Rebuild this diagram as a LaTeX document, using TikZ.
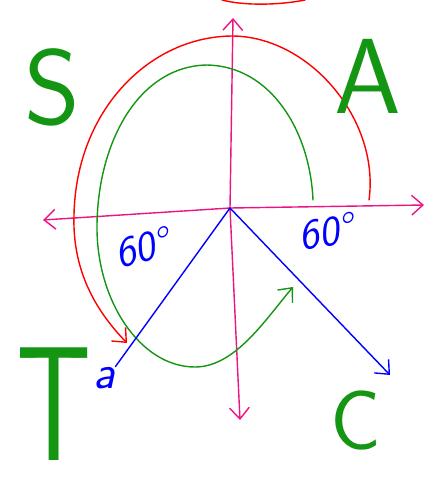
\documentclass[tikz,border=0pt]{standalone}
\usepackage{tikz}
\usetikzlibrary{arrows.meta}

\definecolor{axispink}{RGB}{235,20,130}
\definecolor{quadgreen}{RGB}{20,150,20}

\tikzset{
  quadletter/.style={text=quadgreen, inner sep=0pt, font=\sffamily\fontsize{76}{76}\selectfont},
  anglelabel/.style={text=blue, inner sep=0pt, font=\sffamily\itshape\fontsize{30}{30}\selectfont}
}

\begin{document}
\begin{tikzpicture}[x=0.025cm, y=-0.025cm, >={Straight Barb[length=8pt,width=14pt]},
  line width=1pt, line cap=round, line join=round]

  \useasboundingbox (0,0) rectangle (426,483);

  % Origin and axis ends
  \coordinate (O) at (230,208);
  \coordinate (xl) at (43,220);
  \coordinate (xr) at (424,205);
  \coordinate (yt) at (233,18);
  \coordinate (yb) at (240,420);

  % Axes
  \draw[axispink, <->] (xl) -- (O) -- (xr);
  \draw[axispink, <->] (yb) -- (O) -- (yt);

  % Red arc (outer, from the right axis round to the third quadrant)
  \draw[red, ->] (369,200) .. controls (380,120) and (310,37) .. (233,36)
    .. controls (150,36) and (76,110) .. (74,215)
    .. controls (72,275) and (100,315) .. (127,343);

  % Red stroke cut at the top edge
  \draw[red] (222,0) .. controls (245,6) and (280,5) .. (305,0);

  % Green arc (inner, round to the fourth quadrant)
  \draw[quadgreen, ->] (313,200) .. controls (310,130) and (270,66) .. (207,65)
    .. controls (140,66) and (98,140) .. (97,225)
    .. controls (96,300) and (140,367) .. (195,367)
    .. controls (235,367) and (265,320) .. (293,287);

  % Blue rays at 60 degrees below the axis
  \node[text=blue, inner sep=0pt, font=\sffamily\itshape\fontsize{34}{34}\selectfont] (a) at (104,378) {a};
  \coordinate (P) at (390,375);
  \draw[blue] (O) -- (a.north east);
  \draw[blue, ->] (O) -- (P);

  % Angle labels
  \node[anglelabel, rotate=15] (angL) at (142,248) {60°};
  \node[anglelabel, rotate=10] (angR) at (326,232) {60°};

  % Quadrant letters
  \node[quadletter] (S) at (52,87) {S};
  \node[quadletter] (A) at (368,76) {A};
  \node[quadletter, font=\sffamily\fontsize{116}{116}\selectfont, xscale=0.72] (T) at (54,404) {T};
  \node[quadletter, font=\sffamily\fontsize{60}{60}\selectfont] (C) at (356,421) {C};

\end{tikzpicture}
\end{document}
